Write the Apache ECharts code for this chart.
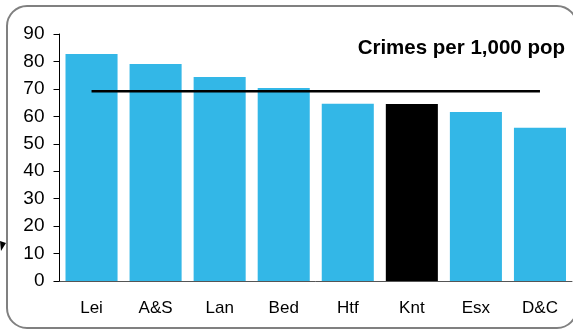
<!DOCTYPE html>
<html>
<head>
<meta charset="utf-8">
<script src="https://cdn.jsdelivr.net/npm/echarts@6/dist/echarts.min.js"></script>
<style>html,body{margin:0;padding:0;background:#fff;}#c{width:573px;height:331px;}</style>
</head>
<body>
<div id="c"></div>
<script>
var categories = ['Lei', 'A&S', 'Lan', 'Bed', 'Htf', 'Knt', 'Esx', 'D&C'];
var crimeRates = [82.7, 79.1, 74.3, 70.3, 64.6, 64.5, 61.6, 55.8];
var averageRate = [69.1, 69.1, 69.1, 69.1, 69.1, 69.1, 69.1, 69.1];
var highlightCategory = 'Knt';
var yTicks = [0, 10, 20, 30, 40, 50, 60, 70, 80, 90];

var chart = echarts.init(document.getElementById('c'), null, {renderer: 'canvas'});
var font = 'Liberation Sans, Arial, sans-serif';
chart.setOption({
  animation: false,
  title: {
    text: 'Crimes per 1,000 pop',
    right: 3,
    top: 33,
    textStyle: {fontFamily: font, fontSize: 20.5, fontWeight: 'bold', color: '#000'}
  },
  graphic: [
    {type: 'rect', shape: {x: 7, y: 6, width: 570, height: 322, r: 20},
     style: {fill: 'none', stroke: '#808080', lineWidth: 2}, z: 100},
    {type: 'polygon', shape: {points: [[0, 241], [6, 243], [1, 251]]},
     style: {fill: '#000'}, z: 100}
  ],
  grid: {left: 59.5, right: 1, top: 34, bottom: 50},
  xAxis: {
    type: 'category',
    data: categories,
    axisLine: {lineStyle: {color: '#555', width: 1}},
    axisTick: {show: false},
    axisLabel: {fontFamily: font, fontSize: 17, color: '#000', margin: 19}
  },
  yAxis: {
    type: 'value',
    min: yTicks[0],
    max: yTicks[yTicks.length - 1],
    interval: 10,
    axisLine: {show: true, lineStyle: {color: '#000', width: 1}},
    axisTick: {show: true, length: 6, lineStyle: {color: '#000'}},
    splitLine: {show: false},
    axisLabel: {fontFamily: font, fontSize: 19, color: '#000', margin: 15}
  },
  series: [
    {
      type: 'bar',
      data: crimeRates.map(function (v, i) {
        return {value: v, itemStyle: {color: categories[i] === highlightCategory ? '#000000' : '#33B7E7'}};
      }),
      barCategoryGap: '18.75%'
    },
    {
      type: 'line',
      data: averageRate,
      symbol: 'none',
      lineStyle: {color: '#000', width: 2.5},
      z: 5
    }
  ]
});
</script>
</body>
</html>
